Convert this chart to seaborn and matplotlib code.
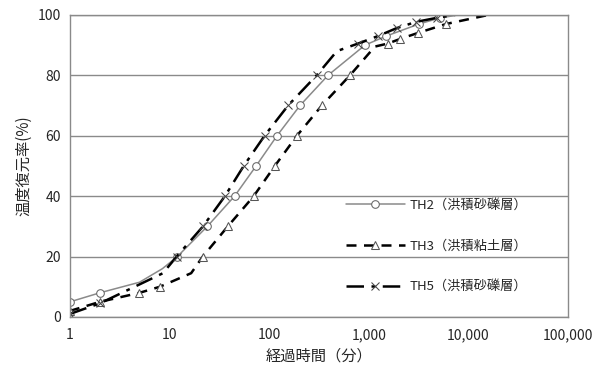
import numpy as np
import pandas as pd
import matplotlib
matplotlib.use("Agg")
import matplotlib.pyplot as plt
import matplotlib.ticker as mticker
import seaborn as sns

# 経過時間(分) and 温度復元率(%)
th2_t = [1, 2, 5, 8.5, 12, 24, 45, 74, 120, 204, 390, 916, 1500, 3200, 5200, 8000]
th2_v = [5, 8, 11.5, 16, 20, 30, 40, 50, 60, 70, 80, 90, 93, 97, 99, 100]

th3_t = [1, 2, 5, 8, 16.5, 21.6, 38.5, 70, 114, 190, 338, 648, 1150, 1550, 2050, 3100, 6000, 16000]
th3_v = [2, 5, 8, 10, 14.5, 20, 30, 40, 50, 60, 70, 80, 89.5, 90.5, 92, 94, 97, 100]

th5_t = [1, 2, 8.6, 11.8, 21.7, 36, 55.6, 90, 155, 300, 478, 780, 1240, 1900, 3000, 4800, 7300]
th5_v = [1, 4.5, 14.5, 20, 30, 40, 50, 60, 70, 80, 88, 90.5, 93, 95.6, 97.7, 99, 100]

labels = ["TH2（洪積砂礫層）", "TH3（洪積粘土層）", "TH5（洪積砂礫層）"]

# points that carry a marker (bends in the curves have none)
th2_marks = [0, 1, 4, 5, 6, 7, 8, 9, 10, 11, 12, 13, 14]
th3_marks = [0, 1, 2, 3, 5, 6, 7, 8, 9, 10, 11, 13, 14, 15, 16]
th5_marks = [0, 1, 3, 4, 5, 6, 7, 8, 9, 11, 12, 13, 14, 15]

sns.set_style("white")
plt.rcParams['font.family'] = ['Noto Sans CJK JP', 'DejaVu Sans']

fig = plt.figure(figsize=(6.07, 3.81), dpi=100)
ax = fig.add_axes([0.115, 0.168, 0.821, 0.793])

sns.lineplot(x=th2_t, y=th2_v, ax=ax, color="#8a8a8a", lw=1.1, marker="o",
             markersize=5.5, markerfacecolor="white", markeredgecolor="#666666",
             markevery=th2_marks, label=labels[0])
sns.lineplot(x=th3_t, y=th3_v, ax=ax, color="black", lw=1.8, linestyle=(0, (4, 3)),
             marker="^", markersize=5.5, markerfacecolor="white",
             markeredgecolor="#555555", markevery=th3_marks, label=labels[1])
sns.lineplot(x=th5_t, y=th5_v, ax=ax, color="black", lw=1.8,
             linestyle=(0, (7, 3, 1.5, 3)), marker="x", markersize=5.5,
             markeredgecolor="#444444", markevery=th5_marks, label=labels[2])

ax.set_xscale("log")
ax.set_xlim(1, 100000)
ax.set_ylim(0, 100)
ax.set_yticks(range(0, 101, 20))
ax.xaxis.set_major_locator(mticker.FixedLocator([1, 10, 100, 1000, 10000, 100000]))
ax.xaxis.set_major_formatter(mticker.FuncFormatter(lambda v, p: f"{int(round(v)):,}"))
ax.xaxis.set_minor_locator(mticker.LogLocator(base=10, subs=np.arange(2, 10)))
ax.tick_params(axis="x", which="minor", direction="in", length=3, color="#888888")
ax.tick_params(axis="x", which="major", direction="in", length=4, color="#888888", pad=8)
ax.tick_params(axis="y", which="major", direction="out", length=3, color="#888888")
ax.tick_params(labelsize=10)

ax.grid(axis="y", color="#8a8a8a", lw=1)
ax.grid(axis="x", visible=False)
for s in ax.spines.values():
    s.set_color("#8a8a8a")
    s.set_linewidth(1)

ax.set_xlabel("経過時間（分）", fontsize=11)
ax.set_ylabel("温度復元率(%)", fontsize=11)

ax.legend(loc="center left", bbox_to_anchor=(0.53, 0.235), frameon=False,
          handlelength=4.5, labelspacing=2.1, fontsize=9.5, handletextpad=0.3)

fig.savefig("out.png", dpi=100)
